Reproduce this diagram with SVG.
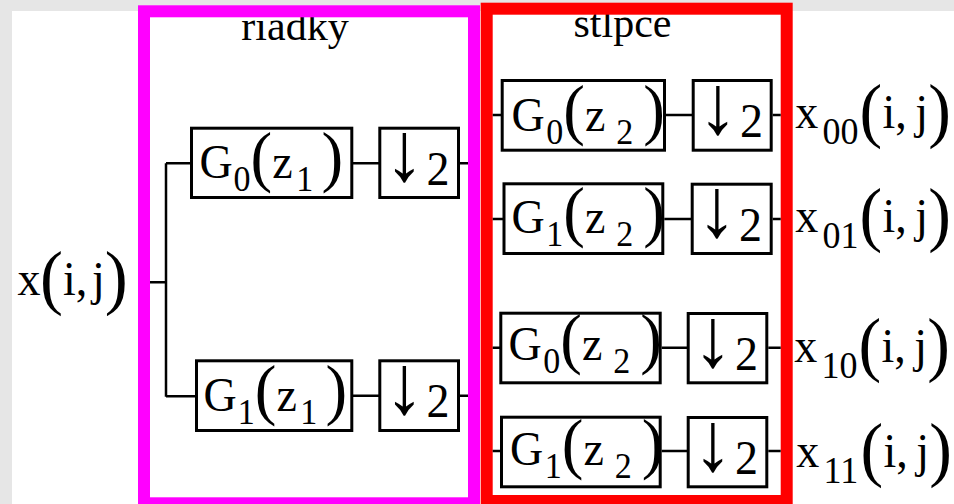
<svg xmlns="http://www.w3.org/2000/svg" width="954" height="504" viewBox="0 0 954 504">
<style>
text{font-family:"Liberation Serif","Times New Roman",serif;font-size:46px;fill:#000}
.sub{font-size:34px}
.osub{font-size:36px}
.par{font-size:65px}
.opar{font-size:68px}
.ipar{font-size:69px}
.arr{font-size:80px}
.title{font-size:42px}
.lbl{word-spacing:-5px}
.box{fill:none;stroke:#000;stroke-width:3}
.wire{fill:none;stroke:#000;stroke-width:2.5}
.frame{fill:none;stroke-width:12}
</style>
<rect x="0" y="0" width="954" height="504" fill="#e6e6e6"/>
<rect x="12" y="11" width="942" height="493" fill="#fff"/>
<g id="titles">
<text class="title" x="295" y="40" text-anchor="middle">riadky</text>
<text class="title" x="622.5" y="36.7" text-anchor="middle">stlpce</text>
</g>
<g id="frames">
<rect class="frame" x="144" y="11.3" width="330" height="492" stroke="#ff00ff"/>
<rect class="frame" x="486.7" y="8.7" width="300" height="492.3" stroke="#ff0000"/>
</g>
<g id="connectors">
<path class="wire" d="M150 282.3H166M166 163.3V396.7M166 163.3H191M166 396.2H196"/>
<path class="wire" d="M353 163.3H380M460 163.3H468M353 395.7H380M460 395.7H468"/>
<path class="wire" d="M492.7 115H501M666 115H692M772.7 115H780.7"/>
<path class="wire" d="M492.7 219H503M664.3 219H691M772.7 219H780.7"/>
<path class="wire" d="M492.7 347.7H500M661.7 347.7H687M768.3 347.7H780.7"/>
<path class="wire" d="M492.7 451H500M661.7 451H687M768.3 451H780.7"/>
</g>
<g id="input">
<text class="lbl" transform="matrix(1 0 0 1.05 0 295)"><tspan x="17.5">x</tspan><tspan class="ipar" x="39.9" y="5.5">(</tspan><tspan x="62.9" y="0">i, </tspan><tspan x="92">j</tspan><tspan class="ipar" x="104.8" y="5.5">)</tspan></text>
</g>
<g id="g0z1">
<rect class="box" x="191.5" y="128.2" width="160.3" height="69.3"/>
<text transform="matrix(1 0 0 1.05 0 178)"><tspan x="199.6">G</tspan><tspan class="sub" x="233.5" y="12.4">0</tspan><tspan class="par" x="250.5" y="1">(</tspan><tspan x="272.2" y="0">z</tspan><tspan class="sub" x="296.2" y="12.4">1</tspan><tspan class="par" x="321.5" y="1">)</tspan></text>
</g>
<g id="down1">
<rect class="box" x="379.8" y="128.2" width="78.7" height="69.3"/>
<text transform="matrix(1 0 0 1.05 0 184.7)"><tspan class="arr" x="384.5" y="-4.2">↓</tspan><tspan x="426.6" y="0">2</tspan></text>
</g>
<g id="g1z1">
<rect class="box" x="196.5" y="360.8" width="155.3" height="69.7"/>
<text transform="matrix(1 0 0 1.05 0 410.5)"><tspan x="203.6">G</tspan><tspan class="sub" x="237.8" y="12.4">1</tspan><tspan class="par" x="254.8" y="1">(</tspan><tspan x="276.5" y="0">z</tspan><tspan class="sub" x="300.2" y="12.4">1</tspan><tspan class="par" x="325.5" y="1">)</tspan></text>
</g>
<g id="down2">
<rect class="box" x="379.8" y="360.8" width="78.7" height="69.7"/>
<text transform="matrix(1 0 0 1.05 0 417.3)"><tspan class="arr" x="384.5" y="-4.2">↓</tspan><tspan x="426.6" y="0">2</tspan></text>
</g>
<g id="g0z2a">
<rect class="box" x="502.2" y="80.5" width="162.3" height="69.7"/>
<text transform="matrix(1 0 0 1.05 0 131)"><tspan x="511.6">G</tspan><tspan class="sub" x="546.2" y="12.4">0</tspan><tspan class="par" x="563.2" y="1">(</tspan><tspan x="584.9" y="0">z</tspan><tspan class="sub" x="616.2" y="12.4">2</tspan><tspan class="par" x="643.2" y="1">)</tspan></text>
</g>
<g id="down3">
<rect class="box" x="693.2" y="80.5" width="78" height="69.7"/>
<text transform="matrix(1 0 0 1.05 0 137)"><tspan class="arr" x="697.9" y="-4.2">↓</tspan><tspan x="740" y="0">2</tspan></text>
</g>
<g id="g1z2a">
<rect class="box" x="504" y="183.8" width="158.8" height="69.7"/>
<text transform="matrix(1 0 0 1.05 0 232.5)"><tspan x="511.6">G</tspan><tspan class="sub" x="546.2" y="12.4">1</tspan><tspan class="par" x="563.2" y="1">(</tspan><tspan x="584.9" y="0">z</tspan><tspan class="sub" x="616.2" y="12.4">2</tspan><tspan class="par" x="643.2" y="1">)</tspan></text>
</g>
<g id="down4">
<rect class="box" x="692.2" y="184.2" width="79" height="69.3"/>
<text transform="matrix(1 0 0 1.05 0 240.7)"><tspan class="arr" x="696.9" y="-4.2">↓</tspan><tspan x="739" y="0">2</tspan></text>
</g>
<g id="g0z2b">
<rect class="box" x="500.8" y="313.2" width="159.4" height="69.6"/>
<text transform="matrix(1 0 0 1.05 0 359.5)"><tspan x="508.6">G</tspan><tspan class="sub" x="543.2" y="12.4">0</tspan><tspan class="par" x="560.2" y="1">(</tspan><tspan x="581.9" y="0">z</tspan><tspan class="sub" x="613.2" y="12.4">2</tspan><tspan class="par" x="640.2" y="1">)</tspan></text>
</g>
<g id="down5">
<rect class="box" x="688.2" y="313.5" width="78.6" height="69.3"/>
<text transform="matrix(1 0 0 1.05 0 370)"><tspan class="arr" x="692.9" y="-4.2">↓</tspan><tspan x="735" y="0">2</tspan></text>
</g>
<g id="g1z2b">
<rect class="box" x="501.5" y="417.2" width="158.7" height="69.6"/>
<text transform="matrix(1 0 0 1.05 0 464.5)"><tspan x="510.1">G</tspan><tspan class="sub" x="544.7" y="12.4">1</tspan><tspan class="par" x="561.7" y="1">(</tspan><tspan x="583.4" y="0">z</tspan><tspan class="sub" x="614.7" y="12.4">2</tspan><tspan class="par" x="641.7" y="1">)</tspan></text>
</g>
<g id="down6">
<rect class="box" x="688.2" y="417.5" width="78.6" height="69.3"/>
<text transform="matrix(1 0 0 1.05 0 474)"><tspan class="arr" x="692.9" y="-4.2">↓</tspan><tspan x="735" y="0">2</tspan></text>
</g>
<g id="outputs">
<text class="lbl" transform="matrix(1 0 0 1.05 0 127.5)"><tspan x="795.2">x</tspan><tspan class="osub" x="822.5" y="15.5">00</tspan><tspan class="opar" x="859.5" y="6">(</tspan><tspan x="882.5" y="0">i, </tspan><tspan x="915.3">j</tspan><tspan class="opar" x="928.2" y="6">)</tspan></text>
<text class="lbl" transform="matrix(1 0 0 1.05 0 232)"><tspan x="795.2">x</tspan><tspan class="osub" x="822.5" y="15.5">01</tspan><tspan class="opar" x="859.5" y="6">(</tspan><tspan x="882.5" y="0">i, </tspan><tspan x="915.3">j</tspan><tspan class="opar" x="928.2" y="6">)</tspan></text>
<text class="lbl" transform="matrix(1 0 0 1.05 0 362)"><tspan x="794.2">x</tspan><tspan class="osub" x="821.5" y="15.5">10</tspan><tspan class="opar" x="858.5" y="6">(</tspan><tspan x="881.5" y="0">i, </tspan><tspan x="914.3">j</tspan><tspan class="opar" x="927.2" y="6">)</tspan></text>
<text class="lbl" transform="matrix(1 0 0 1.05 0 467)"><tspan x="796.2">x</tspan><tspan class="osub" x="823.5" y="15.5">11</tspan><tspan class="opar" x="860.5" y="6">(</tspan><tspan x="883.5" y="0">i, </tspan><tspan x="916.3">j</tspan><tspan class="opar" x="929.2" y="6">)</tspan></text>
</g>
</svg>
